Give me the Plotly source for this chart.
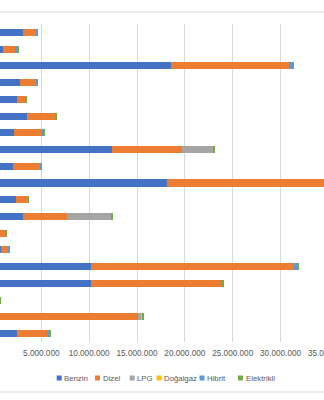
import plotly.graph_objects as go

# Passenger car fleet by fuel type (rows listed top to bottom)
countries = [
    "İsveç", "Norveç", "İngiltere", "İsviçre", "Finlandiya", "Çekya", "Portekiz",
    "Polonya", "Avusturya", "İtalya", "Macaristan", "Türkiye", "Hırvatistan",
    "Slovakya", "Fransa", "İspanya", "Lüksemburg", "Rusya", "Belçika",
]

benzin = [3090000, 1000000, 18520000, 2770000, 2460000, 3510000, 2180000,
          12360000, 2080000, 18130000, 2390000, 3060000, 450000,
          790000, 10190000, 10190000, 250000, 0, 2490000]
dizel = [1360000, 1320000, 12390000, 1680000, 910000, 2950000, 2960000,
         7310000, 2820000, 17400000, 1220000, 4630000, 830000,
         800000, 21180000, 13590000, 330000, 15070000, 3240000]
lpg = [0, 0, 0, 0, 0, 0, 0,
       3300000, 0, 2600000, 0, 4670000, 0,
       0, 0, 0, 0, 350000, 0]
dogalgaz = [0, 0, 0, 0, 0, 0, 0,
            0, 0, 960000, 0, 0, 0,
            0, 0, 0, 0, 130000, 0]
hibrit = [100000, 180000, 420000, 100000, 20000, 20000, 100000,
          0, 70000, 400000, 0, 0, 0,
          50000, 350000, 170000, 40000, 70000, 110000]
elektrikli = [100000, 170000, 60000, 100000, 80000, 60000, 110000,
              80000, 70000, 20000, 90000, 100000, 60000,
              60000, 180000, 140000, 170000, 70000, 70000]

series_names = ["Benzin", "Dizel", "LPG", "Doğalgaz", "Hibrit", "Elektrikli"]
series_values = [benzin, dizel, lpg, dogalgaz, hibrit, elektrikli]
series_colors = ["#4472C4", "#ED7D31", "#A5A5A5", "#FFC000", "#5B9BD5", "#70AD47"]

W, H = 360, 400
M_TOP, M_BOT = 24, 58
PLOT_H = H - M_TOP - M_BOT
TEXT = "#595959"
FONT = "Liberation Sans, Arial, sans-serif"


def px_x(px):
    return px / W


def px_y(py):
    return (H - M_BOT - py) / PLOT_H


fig = go.Figure()
for name, vals, color in zip(series_names, series_values, series_colors):
    fig.add_trace(go.Bar(
        y=countries, x=vals, name=name, orientation="h",
        marker=dict(color=color, line=dict(width=0)),
        showlegend=False,
    ))

# legend row: coloured square + series name
legend_left = [56.7, 95.0, 129.7, 156.7, 199.5, 238.0]
legend_mid = 378
shapes = []
annotations = []
for name, color, lx in zip(series_names, series_colors, legend_left):
    shapes.append(dict(
        type="rect", xref="paper", yref="paper",
        xsizemode="pixel", ysizemode="pixel",
        xanchor=px_x(lx), yanchor=px_y(legend_mid),
        x0=0, x1=5, y0=-2.5, y1=2.5,
        fillcolor=color, line=dict(width=0),
    ))
    annotations.append(dict(
        text=name, xref="paper", yref="paper",
        x=px_x(lx + 5.5), y=px_y(legend_mid),
        xanchor="left", yanchor="middle", showarrow=False,
        font=dict(family=FONT, size=7.8, color=TEXT),
    ))

# chart frame edges
for py in (12, 392):
    shapes.append(dict(
        type="line", xref="paper", yref="paper",
        x0=0, x1=1, y0=px_y(py), y1=px_y(py),
        line=dict(color="#D9D9D9", width=1),
    ))

fig.update_layout(
    template="none",
    width=W, height=H,
    margin=dict(l=0, r=0, t=M_TOP, b=M_BOT, pad=0),
    barmode="stack",
    bargap=0.58,
    separators=",.",
    paper_bgcolor="white",
    plot_bgcolor="white",
    showlegend=False,
    shapes=shapes,
    annotations=annotations,
    xaxis=dict(
        range=[684000, 684000 + W / 9.57 * 1e6],
        tick0=0, dtick=5000000, tickformat=",.0f",
        showgrid=True, gridcolor="#D9D9D9", gridwidth=1,
        zeroline=False, showline=False, ticks="",
        ticklabelstandoff=5,
        tickfont=dict(family=FONT, size=8.2, color=TEXT),
        automargin=False,
    ),
    yaxis=dict(
        autorange="reversed",
        showticklabels=False, showgrid=False, zeroline=False,
        showline=False, ticks="", automargin=False,
    ),
)

fig.write_html(
    "out.html",
    config={"displayModeBar": False},
    post_script="document.documentElement.style.overflow='hidden';"
                "document.body.style.overflow='hidden';",
)
